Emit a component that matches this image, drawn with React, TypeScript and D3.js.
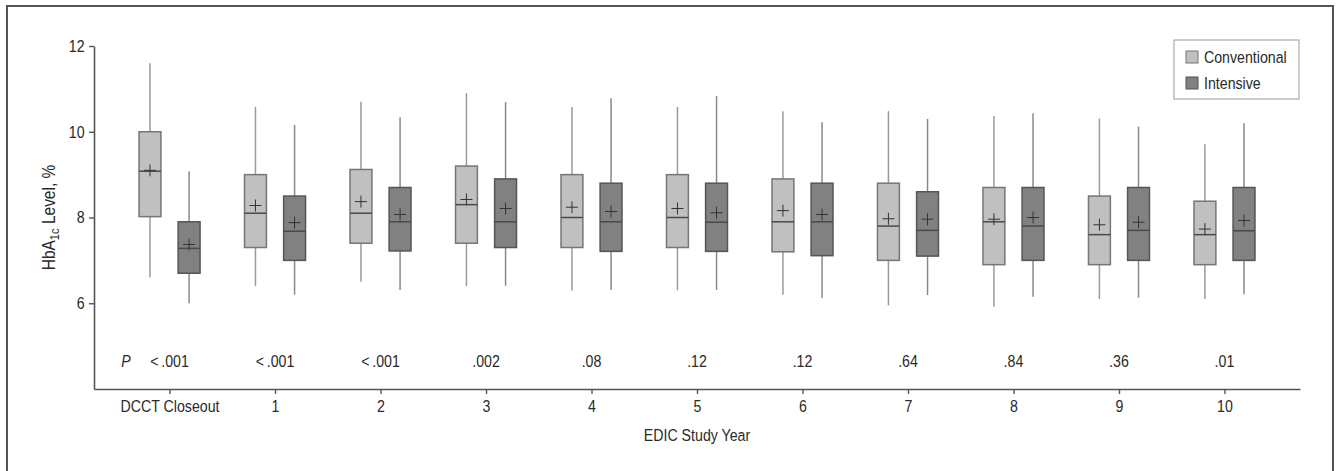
import * as d3 from 'd3'
import {useRef, useLayoutEffect} from "react";

const categories = ['DCCT Closeout', '1', '2', '3', '4', '5', '6', '7', '8', '9', '10']
const pValues = ['<\u2009.001', '<\u2009.001', '<\u2009.001', '.002', '.08', '.12', '.12', '.64', '.84', '.36', '.01']
const groups = ['Conventional', 'Intensive']
const yTicks = [6, 8, 10, 12]

// Conventional
const convLow = [6.6, 6.4, 6.5, 6.4, 6.3, 6.3, 6.2, 5.95, 5.92, 6.1, 6.1]
const convQ1 = [8.02, 7.3, 7.4, 7.4, 7.3, 7.3, 7.2, 7.0, 6.9, 6.9, 6.9]
const convMedian = [9.08, 8.1, 8.1, 8.3, 8.0, 8.0, 7.9, 7.8, 7.9, 7.6, 7.6]
const convQ3 = [10.0, 9.0, 9.12, 9.2, 9.0, 9.0, 8.9, 8.8, 8.7, 8.5, 8.38]
const convHigh = [11.6, 10.58, 10.7, 10.9, 10.58, 10.58, 10.48, 10.48, 10.37, 10.31, 9.71]
const convMean = [9.1, 8.28, 8.37, 8.42, 8.24, 8.21, 8.16, 7.97, 7.96, 7.83, 7.73]

// Intensive
const intLow = [6.0, 6.2, 6.31, 6.41, 6.31, 6.31, 6.12, 6.19, 6.15, 6.13, 6.21]
const intQ1 = [6.7, 7.0, 7.22, 7.3, 7.21, 7.21, 7.11, 7.1, 7.0, 7.0, 7.0]
const intMedian = [7.28, 7.68, 7.9, 7.9, 7.9, 7.89, 7.9, 7.7, 7.8, 7.7, 7.69]
const intQ3 = [7.9, 8.5, 8.7, 8.9, 8.8, 8.8, 8.8, 8.6, 8.7, 8.7, 8.7]
const intHigh = [9.08, 10.16, 10.34, 10.69, 10.78, 10.83, 10.22, 10.3, 10.43, 10.12, 10.2]
const intMean = [7.37, 7.88, 8.07, 8.21, 8.14, 8.11, 8.07, 7.96, 8.0, 7.89, 7.93]

// condensed look: Arial-metric font squeezed horizontally
const FONT = "'Liberation Sans', Arial, sans-serif"
const SQUEEZE = 0.86
const INK = '#2a2a2a'

const width = 1341
const height = 471
const left = 94
const right = 1300
const top = 46
const bottom = 389

const styles = {
  Conventional: {fill: '#c0c0c1', stroke: '#767676', whisker: '#9a9a9a'},
  Intensive: {fill: '#818181', stroke: '#555555', whisker: '#8a8a8a'},
}

const NText = ({x, y, anchor = 'start', size = 16, italic = false, rotate = 0, children}) => (
  <text transform={`translate(${x},${y}) rotate(${rotate}) scale(${SQUEEZE},1)`} textAnchor={anchor}
        fontFamily={FONT} fontSize={size} fontStyle={italic ? 'italic' : 'normal'} fill={INK}>
    {children}
  </text>
)

const App = () => {
  const xAxisRef = useRef(null)
  const yAxisRef = useRef(null)

  const xScale = d3.scalePoint()
    .domain(categories)
    .range([left, right])
    .padding(0.716)

  const inner = d3.scaleBand()
    .domain(groups)
    .range([-30.5, 30.5])
    .paddingInner(0.44)

  const yScale = d3.scaleLinear()
    .domain([4, 12])
    .range([bottom, top])

  const series = [
    {name: 'Conventional', low: convLow, q1: convQ1, med: convMedian, q3: convQ3, high: convHigh, mean: convMean},
    {name: 'Intensive', low: intLow, q1: intQ1, med: intMedian, q3: intQ3, high: intHigh, mean: intMean},
  ]

  useLayoutEffect(() => {
    const xAxis = d3.axisBottom(xScale).tickSize(5).tickSizeOuter(0).tickPadding(6)
    const yAxis = d3.axisLeft(yScale).tickValues(yTicks).tickSize(5).tickSizeOuter(0).tickPadding(6)

    const gx = d3.select(xAxisRef.current).call(xAxis)
    const gy = d3.select(yAxisRef.current).call(yAxis)

    for (const g of [gx, gy]) {
      g.select('.domain').attr('stroke', '#555').attr('stroke-width', 1.6)
      g.selectAll('.tick line').attr('stroke', '#555').attr('stroke-width', 1.4)
      g.selectAll('.tick text')
        .attr('fill', INK)
        .attr('transform', `scale(${SQUEEZE},1)`)
        .style('font-family', FONT)
        .style('font-size', '16.5px')
    }
  }, [])

  return (
    <div style={{position: 'absolute', left: 0, top: 0}}>
      <svg width={width} height={height} style={{display: 'block', background: '#fff'}}>
        {/* outer frame */}
        <rect x={7} y={6} width={1326} height={470} fill="none" stroke="#555" strokeWidth={2}/>

        {/* boxes */}
        {series.map((s) => {
          const st = styles[s.name]
          return categories.map((c, i) => {
            const x0 = xScale(c) + inner(s.name)
            const bw = inner.bandwidth()
            const cx = x0 + bw / 2
            return (
              <g key={s.name + c}>
                <line x1={cx} x2={cx} y1={yScale(s.high[i])} y2={yScale(s.q3[i])} stroke={st.whisker} strokeWidth={1.5}/>
                <line x1={cx} x2={cx} y1={yScale(s.q1[i])} y2={yScale(s.low[i])} stroke={st.whisker} strokeWidth={1.5}/>
                <rect x={x0} y={yScale(s.q3[i])} width={bw} height={yScale(s.q1[i]) - yScale(s.q3[i])}
                      fill={st.fill} stroke={st.stroke} strokeWidth={1.5}/>
                <line x1={x0} x2={x0 + bw} y1={yScale(s.med[i])} y2={yScale(s.med[i])} stroke="#4a4a4a" strokeWidth={1.5}/>
                <line x1={cx - 6} x2={cx + 6} y1={yScale(s.mean[i])} y2={yScale(s.mean[i])} stroke="#333" strokeWidth={1}/>
                <line x1={cx} x2={cx} y1={yScale(s.mean[i]) - 6} y2={yScale(s.mean[i]) + 6} stroke="#333" strokeWidth={1}/>
              </g>
            )
          })
        })}

        {/* p values */}
        <NText x={126} y={367} anchor="middle" italic size={16.5}>P</NText>
        {categories.map((c, i) => (
          <NText key={'p' + c} x={xScale(c)} y={367} anchor="middle" size={16.5}>{pValues[i]}</NText>
        ))}

        <g ref={yAxisRef} transform={`translate(${left},0)`}/>
        <g ref={xAxisRef} transform={`translate(0,${bottom})`}/>

        {/* axis titles */}
        <NText x={(left + right) / 2} y={441} anchor="middle" size={16.5}>EDIC Study Year</NText>
        <NText x={55} y={(top + bottom) / 2} anchor="middle" rotate={-90} size={18}>
          HbA<tspan fontSize={13} dy={4}>1c</tspan><tspan dy={-4}> Level, %</tspan>
        </NText>

        {/* legend */}
        <rect x={1174} y={40} width={125} height={59} fill="#fff" stroke="#999" strokeWidth={1}/>
        {groups.map((g, i) => (
          <g key={g}>
            <rect x={1186} y={51 + i * 26} width={12} height={12} fill={styles[g].fill} stroke={styles[g].stroke}
                  strokeWidth={1}/>
            <NText x={1204} y={63 + i * 26} size={16.5}>{g}</NText>
          </g>
        ))}
      </svg>
    </div>
  )
}

export default App;
